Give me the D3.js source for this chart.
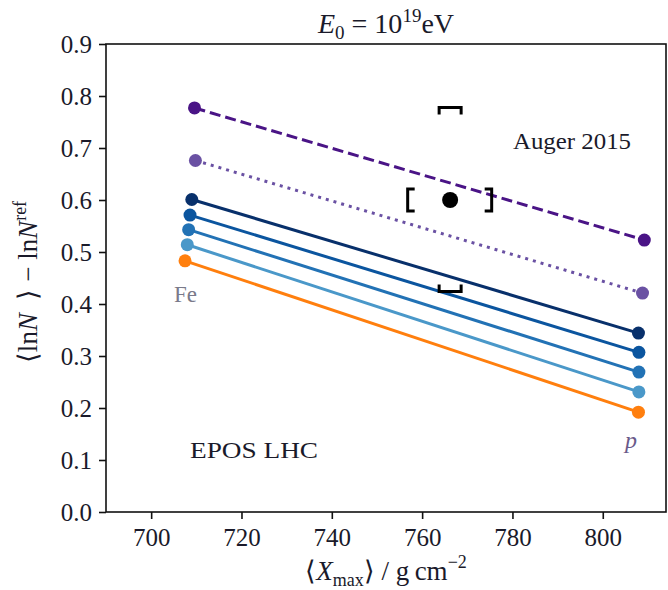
<!DOCTYPE html>
<html><head><meta charset="utf-8">
<script src="https://cdn.jsdelivr.net/npm/d3@7"></script>
<style>
html,body{margin:0;padding:0;background:#fff;}
svg text{font-family:"Liberation Serif",serif !important;}
</style></head>
<body><svg id="c" width="668" height="590"></svg>
<script>
// ---- data ----
const seriesNames = ["model A", "model B", "model C", "model D", "model E", "model F", "model G"];
const xFe = [709.6, 709.8, 709.0, 708.6, 708.3, 708.0, 707.5];
const yFe = [0.777, 0.676, 0.601, 0.571, 0.543, 0.514, 0.483];
const xP  = [809.2, 808.8, 807.9, 808.0, 808.0, 808.0, 807.9];
const yP  = [0.523, 0.421, 0.344, 0.307, 0.269, 0.231, 0.192];
const augerX = [766.2];
const augerY = [0.600];
const augerSysX = [756.8, 775.4];
const augerSysY = [0.424, 0.778];
const xTicks = [700, 720, 740, 760, 780, 800];
const yTicks = [0.0, 0.1, 0.2, 0.3, 0.4, 0.5, 0.6, 0.7, 0.8, 0.9];

// ---- styles ----
const FONT = "Liberation Serif, serif";
const colors = ["#4a1486", "#6a51a3", "#08306b", "#0b559f", "#2272b5", "#4a98c9", "#ff7f0e"];
const dashes = ["11,5", "3,5", null, null, null, null, null];

const W = 668, H = 590;
const m = {l: 106, r: 2, t: 44, b: 78};
const svg = d3.select("#c").attr("font-family", FONT);
const x = d3.scaleLinear().domain([690, 814]).range([m.l, W - m.r]);
const y = d3.scaleLinear().domain([0, 0.9]).range([H - m.b, m.t]);

// frame
svg.append("rect").attr("x", m.l).attr("y", m.t).attr("width", W - m.r - m.l).attr("height", H - m.b - m.t)
  .attr("fill", "none").attr("stroke", "#111").attr("stroke-width", 1.6);

const gx = svg.append("g").attr("transform", `translate(0,${H - m.b})`)
  .call(d3.axisBottom(x).tickValues(xTicks).tickSize(7).tickPadding(9).tickFormat(d3.format("d")));
const gy = svg.append("g").attr("transform", `translate(${m.l},0)`)
  .call(d3.axisLeft(y).tickValues(yTicks).tickSize(7).tickPadding(7).tickFormat(d3.format(".1f")));
[gx, gy].forEach(g => {
  g.attr("font-family", FONT);
  g.select(".domain").remove();
  g.selectAll(".tick line").attr("stroke", "#111").attr("stroke-width", 1.6);
  g.selectAll(".tick text").attr("font-family", FONT).attr("font-size", 25).attr("fill", "#1a1a2a");
});

// series lines
const series = seriesNames.map((n, i) => ({name: n, pts: [[xFe[i], yFe[i]], [xP[i], yP[i]]], i}));
const line = d3.line().x(d => x(d[0])).y(d => y(d[1]));
series.forEach(s => {
  svg.append("path").attr("d", line(s.pts)).attr("fill", "none")
    .attr("stroke", colors[s.i]).attr("stroke-width", 3)
    .attr("stroke-dasharray", dashes[s.i]);
  svg.selectAll(null).data(s.pts).join("circle")
    .attr("cx", d => x(d[0])).attr("cy", d => y(d[1])).attr("r", 6.5).attr("fill", colors[s.i]);
});

// Auger point with systematic brackets
const ax = x(augerX[0]), ay = y(augerY[0]);
svg.append("circle").attr("cx", ax).attr("cy", ay).attr("r", 8).attr("fill", "#000");
const bx0 = x(augerSysX[0]), bx1 = x(augerSysX[1]);
const by0 = y(augerSysY[0]), by1 = y(augerSysY[1]);
const hv = 11, arm = 7, hw = 11;
const bk = svg.append("g").attr("fill", "none").attr("stroke", "#000").attr("stroke-width", 3);
bk.append("path").attr("d", `M${bx0 + arm},${ay - hv}H${bx0}V${ay + hv}H${bx0 + arm}`);
bk.append("path").attr("d", `M${bx1 - arm},${ay - hv}H${bx1}V${ay + hv}H${bx1 - arm}`);
bk.append("path").attr("d", `M${ax - hw},${by1 + arm}V${by1}H${ax + hw}V${by1 + arm}`);
bk.append("path").attr("d", `M${ax - hw},${by0 - arm}V${by0}H${ax + hw}V${by0 - arm}`);

// annotations
svg.append("text").attr("x", 513).attr("y", 149).attr("font-size", 24).attr("fill", "#1a1a2a")
  .attr("textLength", 118).attr("lengthAdjust", "spacingAndGlyphs").text("Auger 2015");
svg.append("text").attr("x", 190).attr("y", 458).attr("font-size", 24).attr("fill", "#1a1a2a")
  .attr("textLength", 128).attr("lengthAdjust", "spacingAndGlyphs").text("EPOS LHC");
svg.append("text").attr("x", 174).attr("y", 302).attr("font-size", 23).attr("fill", "#7a7a8a").text("Fe");
svg.append("text").attr("x", 625).attr("y", 448).attr("font-size", 24).attr("font-style", "italic").attr("fill", "#6a5a8a").text("p");

// title
const t = svg.append("text").attr("x", (m.l + W - m.r) / 2).attr("y", 33).attr("text-anchor", "middle").attr("font-size", 28).attr("fill", "#1a1a2a");
t.append("tspan").attr("font-style", "italic").text("E");
t.append("tspan").attr("dy", 6).attr("font-size", 19).text("0");
t.append("tspan").attr("dy", -6).text(" = 10");
t.append("tspan").attr("dy", -11).attr("font-size", 19).text("19");
t.append("tspan").attr("dy", 11).text("eV");

// x label
const xl = svg.append("text").attr("x", (m.l + W - m.r) / 2).attr("y", 580).attr("text-anchor", "middle").attr("font-size", 27).attr("fill", "#1a1a2a");
xl.append("tspan").text("\u27E8");
xl.append("tspan").attr("font-style", "italic").text("X");
xl.append("tspan").attr("dy", 6).attr("font-size", 18).text("max");
xl.append("tspan").attr("dy", -6).text("\u27E9 / g\u2009cm");
xl.append("tspan").attr("dy", -12).attr("font-size", 18).text("\u22122");

// y label
const yl = svg.append("text").attr("transform", `translate(37,${(m.t + H - m.b) / 2 + 4}) rotate(-90)`)
  .attr("text-anchor", "middle").attr("font-size", 27).attr("fill", "#1a1a2a");
yl.append("tspan").text("\u27E8ln");
yl.append("tspan").attr("font-style", "italic").text("N");
yl.append("tspan").text("\u2002\u27E9 \u2212 ln");
yl.append("tspan").attr("font-style", "italic").text("N");
yl.append("tspan").attr("dy", -11).attr("font-size", 18).text("ref");
</script></body></html>
